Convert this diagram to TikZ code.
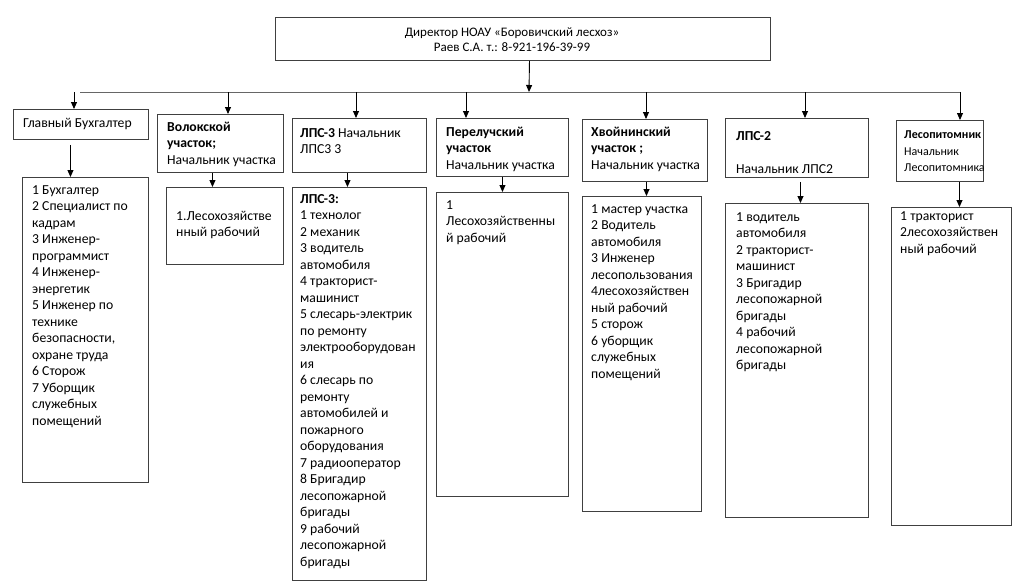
\documentclass[tikz,border=0pt]{standalone}
\usepackage{fontspec}
\setmainfont{Carlito}
\usetikzlibrary{arrows.meta,calc}
\begin{document}
\begin{tikzpicture}[x=1pt,y=-1pt,
  box/.style={draw=black!75, line width=0.95pt, inner sep=0pt, anchor=north west},
  txt/.style={anchor=north west, inner sep=0pt, align=left, font=\fontsize{13.7}{16.5}\selectfont},
  arr/.style={-{Triangle[length=7pt,width=6pt]}, line width=0.9pt, black},
  bus/.style={line width=0.9pt, draw=black!60}]
\useasboundingbox (0,0) rectangle (1024,584);

% boxes
\node[box, minimum width=495, minimum height=43] (dir) at (275,17) {};
\node[box, minimum width=135, minimum height=30] (gb) at (13,109) {};
\node[box, minimum width=126, minimum height=305] (gbl) at (22,177) {};
\node[box, minimum width=126, minimum height=58] (vol) at (157,114) {};
\node[box, minimum width=117, minimum height=77] (voll) at (166,187) {};
\node[box, minimum width=134, minimum height=54] (lps3) at (292,118) {};
\node[box, minimum width=134, minimum height=393] (lps3l) at (292,187) {};
\node[box, minimum width=132, minimum height=58] (per) at (436,118) {};
\node[box, minimum width=132, minimum height=304] (perl) at (436,192) {};
\node[box, minimum width=125, minimum height=62] (hv) at (582,119) {};
\node[box, minimum width=119, minimum height=315] (hvl) at (582,196) {};
\node[box, minimum width=143, minimum height=59] (lps2) at (725,118) {};
\node[box, minimum width=143, minimum height=314] (lps2l) at (725,203) {};
\node[box, minimum width=87, minimum height=61] (les) at (896,120) {};
\node[box, minimum width=120, minimum height=318] (lesl) at (891,207) {};

% texts
\node[align=center, inner sep=0pt, font=\fontsize{13}{15}\selectfont] (dirt) at (512,39.5)
  {Директор НОАУ «Боровичский лесхоз»\\Раев С.А. т.: 8-921-196-39-99};
\node[txt] (gbt) at (23,115.6) {\strut Главный Бухгалтер};
\node[txt] (gblt) at (32,182.6) {\strut 1 Бухгалтер\\2 Специалист по\\кадрам\\3 Инженер-\\программист\\4 Инженер-\\энергетик\\5 Инженер по\\технике\\безопасности,\\охране труда\\6 Сторож\\7 Уборщик\\служебных\\помещений};
\node[txt] (volt) at (167,119.6) {\strut\textbf{Волокской}\\\textbf{участок;}\\Начальник участка};
\node[txt] (vollt) at (176,208.6) {\strut 1.Лесохозяйстве\\нный рабочий};
\node[txt] (lps3t) at (300,125.6) {\strut\textbf{ЛПС-3} Начальник\\ЛПС3 3};
\node[txt] (lps3lt) at (300,191.6) {\strut\textbf{ЛПС-3:}\\1 технолог\\2 механик\\3 водитель\\автомобиля\\4 тракторист-\\машинист\\5 слесарь-электрик\\по ремонту\\электрооборудован\\ия\\6 слесарь по\\ремонту\\автомобилей и\\пожарного\\оборудования\\7 радиооператор\\8 Бригадир\\лесопожарной\\бригады\\9 рабочий\\лесопожарной\\бригады};
\node[txt] (pert) at (446,124.6) {\strut\textbf{Перелучский}\\\textbf{участок}\\Начальник участка};
\node[txt] (perlt) at (446,197.6) {\strut 1\\Лесохозяйственны\\й рабочий};
\node[txt] (hvt) at (591,124.6) {\strut\textbf{Хвойнинский}\\\textbf{участок ;}\\Начальник участка};
\node[txt] (hvlt) at (591,201.6) {\strut 1 мастер участка\\2 Водитель\\автомобиля\\3 Инженер\\лесопользования\\4лесохозяйствен\\ный рабочий\\5 сторож\\6 уборщик\\служебных\\помещений};
\node[txt] (lps2t) at (736,128.6) {\strut\textbf{ЛПС-2}\\[16.5pt]Начальник ЛПС2};
\node[txt] (lps2lt) at (736,209.6) {\strut 1 водитель\\автомобиля\\2 тракторист-\\машинист\\3 Бригадир\\лесопожарной\\бригады\\4 рабочий\\лесопожарной\\бригады};
\node[txt, font=\fontsize{12}{16.5}\selectfont] (lest) at (904,127) {\strut\textbf{Лесопитомник}\\Начальник\\Лесопитомника};
\node[txt] (leslt) at (900,208.6) {\strut 1 тракторист\\2лесохозяйствен\\ный рабочий};

% bus
\coordinate (t0) at (529,92);
\coordinate (busL) at (80,92);
\coordinate (busR) at (960,92);
\coordinate (t1) at (74,92);
\coordinate (t2) at (228,92);
\coordinate (t3) at (356,92);
\coordinate (t4) at (466,92);
\coordinate (t5) at (646,92);
\coordinate (t6) at (805,92);
\coordinate (t7) at (960,92);
\draw[bus] (busL) -- (busR);
\draw[arr] ([xshift=6.5pt]dir.south) -- (t0);
\draw[arr] (t1) -- (t1 |- gb.north);
\draw[arr] (t2) -- (t2 |- vol.north);
\draw[arr] (t3) -- (t3 |- lps3.north);
\draw[arr] (t4) -- (t4 |- per.north);
\draw[arr] (t5) -- (t5 |- hv.north);
\draw[arr] (t6) -- (t6 |- lps2.north);
\draw[arr] (t7) -- (t7 |- les.north);

% box to list
\draw[arr] ([xshift=-10.5pt,yshift=-5pt]gb.south) -- ([xshift=-15pt]gbl.north);
\draw[arr] ([xshift=-8pt]vol.south) -- ([xshift=-12.5pt]voll.north);
\draw[arr] ([xshift=-12pt]lps3.south) -- ([xshift=-12pt]lps3l.north);
\draw[arr] (per.south) -- (perl.north);
\draw[arr] ([xshift=1.5pt]hv.south) -- ([xshift=4.5pt]hvl.north);
\draw[arr] ([xshift=3.5pt,yshift=-4pt]lps2.south) -- ([xshift=3.5pt]lps2l.north);
\draw[arr] ([xshift=19.5pt]les.south) -- ([xshift=8pt]lesl.north);
\end{tikzpicture}
\end{document}
